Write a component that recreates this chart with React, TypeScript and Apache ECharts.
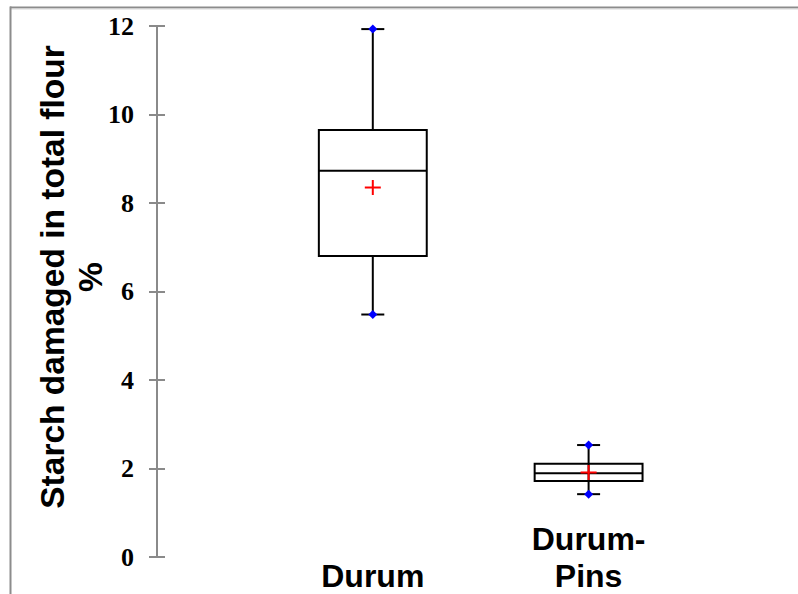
import React, { useEffect, useRef } from "react";
import * as echarts from "echarts";

const categories = ["Durum", "Durum-\nPins"];
const minValues = [5.48, 1.42];
const q1Values = [6.8, 1.72];
const medianValues = [8.73, 1.89];
const q3Values = [9.65, 2.11];
const maxValues = [11.93, 2.53];
const meanValues = [8.35, 1.91];
const yTicks = { min: 0, max: 12, interval: 2 };
const yTitle = "Starch damaged in total flour\n%";

export default function App() {
  const ref = useRef<HTMLDivElement>(null);
  useEffect(() => {
    if (!ref.current) return;
    const chart = echarts.init(ref.current, undefined, { renderer: "svg" });
    const data = categories.map((_, i) => [
      i + 1,
      minValues[i],
      q1Values[i],
      medianValues[i],
      q3Values[i],
      maxValues[i],
      meanValues[i],
    ]);
    const axisGray = "#8a8a8a";
    chart.setOption({
      animation: false,
      backgroundColor: "#ffffff",
      grid: { left: 157, top: 26, right: 209.4, bottom: 33, containLabel: false },
      xAxis: {
        type: "category",
        boundaryGap: false,
        data: ["", ...categories],
        axisLine: { show: false },
        axisTick: { show: false },
        splitLine: { show: false },
        axisLabel: {
          interval: 0,
          fontFamily: "Liberation Sans",
          fontWeight: "bold",
          fontSize: 32,
          lineHeight: 37,
          color: "#000",
          verticalAlign: "bottom",
          margin: 37,
        },
      },
      yAxis: [
        {
          type: "value",
          min: yTicks.min,
          max: yTicks.max,
          interval: yTicks.interval,
          position: "left",
          axisLine: { show: true, lineStyle: { color: axisGray, width: 2 } },
          axisTick: { show: true, length: 8, lineStyle: { color: axisGray, width: 2 } },
          axisLabel: {
            fontFamily: "Liberation Serif",
            fontWeight: "bold",
            fontSize: 26,
            color: "#000",
            margin: 23,
          },
          splitLine: { show: false },
        },
        {
          type: "value",
          min: yTicks.min,
          max: yTicks.max,
          interval: yTicks.interval,
          position: "left",
          offset: 0,
          axisLine: { show: false },
          axisTick: { show: true, inside: true, length: 8, lineStyle: { color: axisGray, width: 2 } },
          axisLabel: { show: false },
          splitLine: { show: false },
        },
      ],
      graphic: [
        {
          type: "line",
          shape: { x1: 10, y1: 7.5, x2: 798, y2: 7.5 },
          style: { stroke: "#8c8c8c", lineWidth: 2 },
          silent: true,
        },
        {
          type: "line",
          shape: { x1: 10, y1: 9, x2: 798, y2: 9 },
          style: { stroke: "#d8d8d8", lineWidth: 1 },
          silent: true,
        },
        {
          type: "line",
          shape: { x1: 10.5, y1: 6.5, x2: 10.5, y2: 594 },
          style: { stroke: "#8c8c8c", lineWidth: 2 },
          silent: true,
        },
        {
          type: "text",
          x: 71,
          y: 277,
          rotation: Math.PI / 2,
          style: {
            text: yTitle,
            fontFamily: "Liberation Sans",
            fontWeight: "bold",
            fontSize: 33.5,
            lineHeight: 38,
            fill: "#000",
            align: "center",
            verticalAlign: "middle",
          },
        },
      ],
      series: [
        {
          type: "custom",
          yAxisIndex: 0,
          data,
          encode: { x: 0, y: [1, 2, 3, 4, 5, 6] },
          renderItem: (params: any, api: any) => {
            const idx = api.value(0);
            const cx = api.coord([idx, 0])[0];
            const yMin = api.coord([idx, api.value(1)])[1];
            const yQ1 = api.coord([idx, api.value(2)])[1];
            const yMed = api.coord([idx, api.value(3)])[1];
            const yQ3 = api.coord([idx, api.value(4)])[1];
            const yMax = api.coord([idx, api.value(5)])[1];
            const yMean = api.coord([idx, api.value(6)])[1];
            const band = api.size([1, 0])[0];
            const bw = band * 0.5;
            const cap = 23;
            const black = { stroke: "#000", lineWidth: 2 };
            const d = 4.5;
            const c = 8;
            const diamond = (y: number) => ({
              type: "polygon",
              shape: {
                points: [
                  [cx, y - d],
                  [cx + d, y],
                  [cx, y + d],
                  [cx - d, y],
                ],
              },
              style: { fill: "#0000ff", stroke: null },
            });
            return {
              type: "group",
              children: [
                { type: "line", shape: { x1: cx, y1: yMax, x2: cx, y2: yQ3 }, style: black },
                { type: "line", shape: { x1: cx, y1: yQ1, x2: cx, y2: yMin }, style: black },
                { type: "line", shape: { x1: cx - cap / 2, y1: yMax, x2: cx + cap / 2, y2: yMax }, style: black },
                { type: "line", shape: { x1: cx - cap / 2, y1: yMin, x2: cx + cap / 2, y2: yMin }, style: black },
                {
                  type: "rect",
                  shape: { x: cx - bw / 2, y: yQ3, width: bw, height: yQ1 - yQ3 },
                  style: { fill: "#fff", stroke: "#000", lineWidth: 2 },
                },
                { type: "line", shape: { x1: cx - bw / 2, y1: yMed, x2: cx + bw / 2, y2: yMed }, style: black },
                { type: "line", shape: { x1: cx, y1: yQ3, x2: cx, y2: yQ1 }, style: { stroke: "#000", lineWidth: idx === 2 ? 2 : 0 } },
                diamond(yMax),
                diamond(yMin),
                { type: "line", shape: { x1: cx - c, y1: yMean, x2: cx + c, y2: yMean }, style: { stroke: "#ff0000", lineWidth: 2 } },
                { type: "line", shape: { x1: cx, y1: yMean - c + 0.5, x2: cx, y2: yMean + c - 0.5 }, style: { stroke: "#ff0000", lineWidth: 2 } },
              ],
            };
          },
        },
      ],
    });
    return () => chart.dispose();
  }, []);
  return (
    <div
      ref={ref}
      style={{ position: "absolute", left: 0, top: 0, width: 798, height: 594 }}
    />
  );
}
